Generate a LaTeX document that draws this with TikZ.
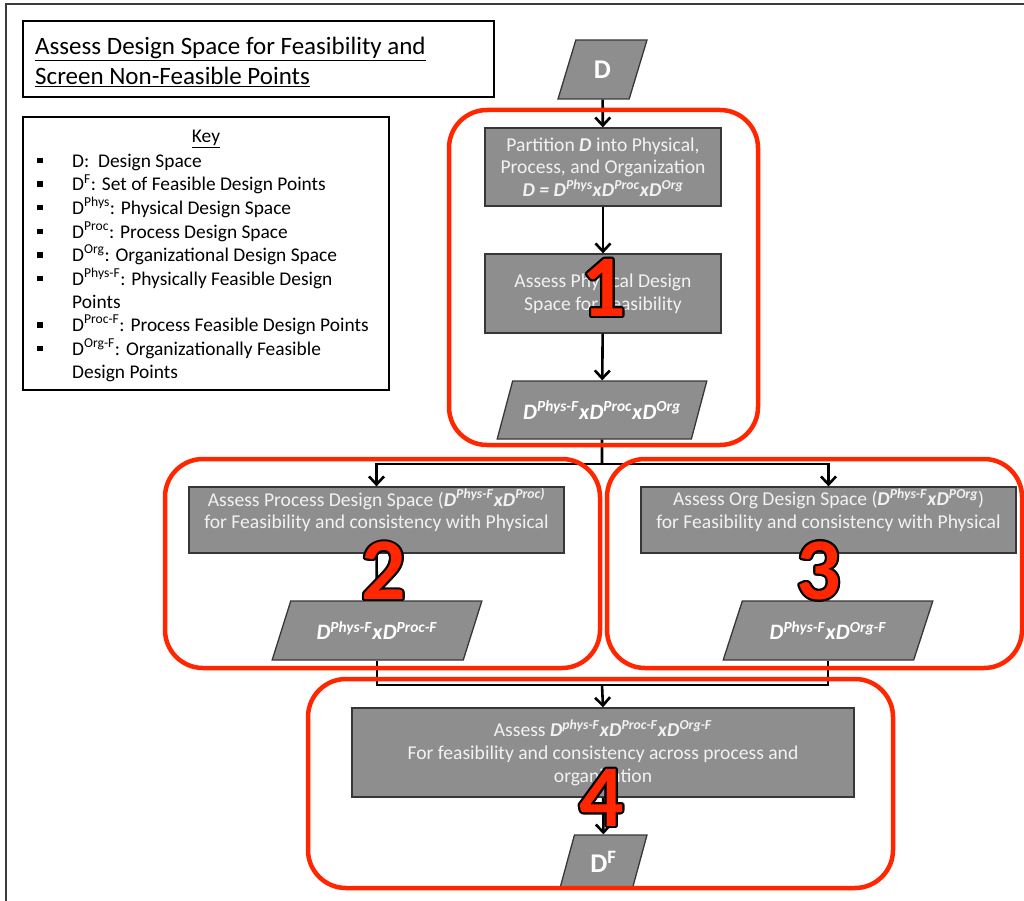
\documentclass[tikz,border=0pt]{standalone}
\usepackage{fontspec}
\setmainfont{Carlito}
\usetikzlibrary{shapes.geometric,arrows.meta,calc}

\definecolor{grpred}{RGB}{255,38,0}
\definecolor{boxgray}{RGB}{142,142,142}
\definecolor{boxline}{RGB}{55,55,55}
\definecolor{boxtext}{RGB}{242,242,242}
\definecolor{framegray}{RGB}{60,60,60}

% set symbols
\newcommand{\DS}[1]{\textbf{\textit{D}}\textsuperscript{\textbf{\textit{#1}}}}
\newcommand{\tx}{\textbf{\textit{x}}}
\newcommand{\kb}{\llap{\rule[4pt]{5.5pt}{5.5pt}\hspace{29.5pt}}}

% big outlined step number: black copies behind a red digit
\newcommand{\stepnum}[3]{%
  \foreach \a in {0,30,...,330}{\node[numdigit,text=black] at ($(#2)+(\a:2)$) {#3};}
  \node[numdigit] (#1) at (#2) {#3};}

\begin{document}
\begin{tikzpicture}[x=1pt,y=-1pt,
  grp/.style={draw=grpred, line width=4.5pt, rounded corners=38pt},
  stepbox/.style={rectangle, draw=boxline, line width=1.3pt, fill=boxgray,
    text=boxtext, align=center, inner sep=0pt,
    font=\fontsize{19.6}{22.8}\selectfont},
  datapar/.style={trapezium, trapezium stretches=true, draw=boxline,
    line width=1.3pt, fill=boxgray, text=white, inner sep=0pt,
    font=\fontsize{22}{24}\selectfont},
  arr/.style={draw=black, line width=2.6pt,
    -{Straight Barb[length=8pt,width=15pt]}},
  link/.style={draw=black, line width=2.6pt},
  titlebox/.style={draw=black, line width=1.2pt, text width=447pt,
    inner xsep=12pt, inner ysep=0pt, minimum height=76pt, align=left,
    font=\fontsize{25}{30}\selectfont},
  keyline/.style={anchor=base west, inner sep=0pt,
    font=\fontsize{19.4}{22}\selectfont},
  numdigit/.style={inner sep=0pt, text=grpred,
    font=\fontsize{88}{88}\selectfont\bfseries},
]
\useasboundingbox (0,0) rectangle (1024,901);

% page frame
\draw[framegray, line width=1.5pt] (1024,4) -| (6,901);

% title
\node[titlebox] (title) at (258.5,59) {};
\node[anchor=west, align=left, inner sep=0pt, font=\fontsize{25}{30}\selectfont]
  (titletext) at (35,62)
  {\underline{Assess Design Space for Feasibility and}\\
   \underline{Screen Non-Feasible Points}};

% key
\node[draw=black, line width=1.2pt, minimum width=366pt, minimum height=273pt,
  inner sep=0pt] (key) at (206,253.5) {};
\node[anchor=base, inner sep=0pt, font=\fontsize{19.4}{22}\selectfont]
  (keyhead) at (206,143) {\underline{Key}};
\node[keyline] (k1) at (72,167.5) {\kb D:\ \ Design Space};
\node[keyline] (k2) at (72,191) {\kb D\textsuperscript{F}: Set of Feasible Design Points};
\node[keyline] (k3) at (72,214.5) {\kb D\textsuperscript{Phys}: Physical Design Space};
\node[keyline] (k4) at (72,238) {\kb D\textsuperscript{Proc}: Process Design Space};
\node[keyline] (k5) at (72,261.5) {\kb D\textsuperscript{Org}: Organizational Design Space};
\node[keyline] (k6) at (72,285) {\kb D\textsuperscript{Phys-F}: Physically Feasible Design};
\node[keyline] (k6b) at (72,308) {Points};
\node[keyline] (k7) at (72,331.5) {\kb D\textsuperscript{Proc-F}: Process Feasible Design Points};
\node[keyline] (k8) at (72,355) {\kb D\textsuperscript{Org-F}: Organizationally Feasible};
\node[keyline] (k8b) at (72,378.5) {Design Points};

% flow: stage 1
\node[datapar, trapezium left angle=72, trapezium right angle=108,
  minimum width=89pt, minimum height=59pt,
  font=\fontsize{27}{27}\selectfont\bfseries] (din) at (602.5,69.5) {D};
\node[stepbox, minimum width=236pt, minimum height=78pt] (part) at (603,167)
  {Partition \textbf{\textit{D}} into Physical,\\
   Process, and Organization\\
   \textbf{\textit{D}} \textbf{\textit{=}} \DS{Phys}\tx\DS{Proc}\tx\DS{Org}};
\node[stepbox, minimum width=236pt, minimum height=79pt] (phys) at (603,293.5)
  {Assess Physical Design\\Space for Feasibility};
\node[datapar, trapezium left angle=53.4, trapezium right angle=126.6,
  minimum width=210pt, minimum height=58pt] (pf) at (602,410)
  {\DS{Phys-F}\tx\DS{Proc}\tx\DS{Org}};

% stages 2 and 3
\node[stepbox, minimum width=375pt, minimum height=66pt] (proc) at (376.5,520)
  {Assess Process Design Space (\DS{Phys-F}\tx\DS{Proc)}\\
   for Feasibility and consistency with Physical\\\mbox{}};
\node[stepbox, minimum width=375pt, minimum height=66pt] (org) at (828.5,520)
  {Assess Org Design Space (\DS{Phys-F}\tx\DS{POrg})\\
   for Feasibility and consistency with Physical\\\mbox{}};
\node[datapar, trapezium left angle=54.6, trapezium right angle=125.4,
  minimum width=210pt, minimum height=59pt] (ppf) at (377,630.5)
  {\DS{Phys-F}\tx\DS{Proc-F}};
\node[datapar, trapezium left angle=54.6, trapezium right angle=125.4,
  minimum width=210pt, minimum height=59pt] (opf) at (828,630.5)
  {\DS{Phys-F}\tx\DS{Org-F}};

% stage 4
\node[stepbox, minimum width=502pt, minimum height=89pt] (final) at (603,752.5)
  {Assess \DS{phys-F}\tx\DS{Proc-F}\tx\DS{Org-F}\\
   For feasibility and consistency across process and\\
   organization};
\node[datapar, trapezium left angle=73, trapezium right angle=107,
  minimum width=87pt, minimum height=53pt,
  font=\fontsize{27}{27}\selectfont\bfseries] (dF) at (603.5,861.5)
  {D\textsuperscript{F}};

% connectors
\coordinate (split) at (602,464);
\coordinate (join) at (602,685);
\draw[arr] (din) -- (part);
\draw[arr] (part) -- (phys);
\draw[arr] (phys) -- (pf);
\draw[link] (pf.south) -- (split);
\draw[arr] (split) -| (proc.north);
\draw[arr] (split) -| (org.north);
\draw[link] (proc.south) -- (ppf.north);
\draw[link] (org.south) -- (opf.north);
\draw[link] (ppf.south) |- (join);
\draw[link] (opf.south) |- (join);
\draw[arr] (join) -- (final.north);
\draw[arr] (final) -- (dF);

% stage groups
\node[grp, minimum width=309pt, minimum height=335pt, inner sep=0pt] (g1) at (603.5,277.5) {};
\node[grp, minimum width=435pt, minimum height=209pt, inner sep=0pt] (g2) at (382.5,563.5) {};
\node[grp, minimum width=415pt, minimum height=209pt, inner sep=0pt] (g3) at (814.5,563.5) {};
\node[grp, minimum width=585pt, minimum height=209pt, inner sep=0pt] (g4) at (600.5,783.5) {};

% stage numbers
\stepnum{n1}{604,288}{1}
\stepnum{n2}{384,571}{2}
\stepnum{n3}{819,571}{3}
\stepnum{n4}{602,798}{4}
\end{tikzpicture}
\end{document}
